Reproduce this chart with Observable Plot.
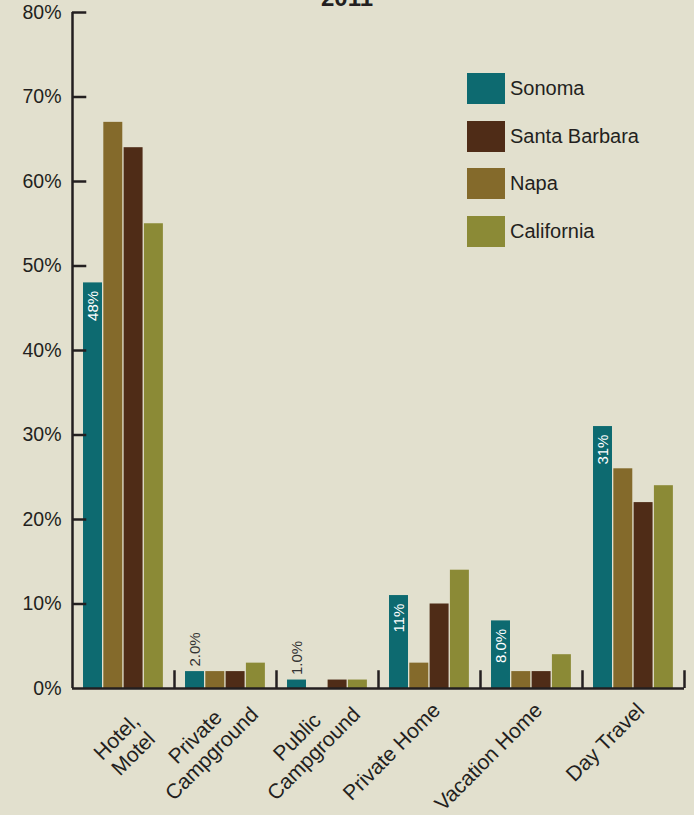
<!DOCTYPE html>
<html>
<head>
<meta charset="utf-8">
<script src="https://cdn.jsdelivr.net/npm/d3@7"></script>
<script src="https://cdn.jsdelivr.net/npm/@observablehq/plot@0.6"></script>
<style>
  body { margin: 0; background: #e2e0ce; font-family: "Liberation Sans", Arial, sans-serif; }
  #wrap { position: relative; width: 694px; height: 815px; overflow: hidden; background: #e2e0ce; }
  #title { position: absolute; left: 0; top: -14px; width: 694px; text-align: center; font-weight: bold; font-size: 24px; line-height: 1; color: #231f20; }
  #chart { position: absolute; left: 0; top: 0; }
  #legend { position: absolute; left: 467px; top: 73px; }
  .item { position: absolute; left: 0; display: flex; align-items: center; height: 31px; white-space: nowrap; }
  .sw { width: 38px; height: 31px; margin-right: 5px; }
  .lab { font-size: 20px; color: #231f20; }
</style>
</head>
<body>
<div id="wrap">
  <div id="chart"></div>
  <div id="title">2011</div>
  <div id="legend"></div>
</div>
<script>
// ---- data ----
const categories = ["Hotel,\nMotel", "Private\nCampground", "Public\nCampground", "Private Home", "Vacation Home", "Day Travel"];
const seriesOrder = ["Sonoma", "Napa", "Santa Barbara", "California"];      // bar order within a group
const legendOrder = ["Sonoma", "Santa Barbara", "Napa", "California"];
const seriesColors = ["#0d6a70", "#846a2b", "#4f2c17", "#8b8a36"];
const sonoma       = [48, 2, 1, 11, 8, 31];
const napa         = [67, 2, 0, 3, 2, 26];
const santaBarbara = [64, 2, 1, 10, 2, 22];
const california   = [55, 3, 1, 14, 4, 24];
const sonomaLabels = ["48%", "2.0%", "1.0%", "11%", "8.0%", "31%"];
const yTicks = [0, 10, 20, 30, 40, 50, 60, 70, 80];

const valuesBySeries = { "Sonoma": sonoma, "Napa": napa, "Santa Barbara": santaBarbara, "California": california };

const rows = [];
categories.forEach((c, i) => {
  seriesOrder.forEach((s, j) => rows.push({ i, j, category: c, series: s, value: valuesBySeries[s][i] }));
});
const sonomaRows = categories.map((c, i) => ({ i, value: sonoma[i], label: sonomaLabels[i] }));

// layout within a group (in group units)
const start = 0.108, step = 0.199, bw = 0.186;
const x1 = d => d.i - 0.5 + start + step * d.j;
const ink = "#231f20";

const W = 694, H = 815;
const fontX = 21;
const lh = fontX * 1.12;
const ctx = document.createElement("canvas").getContext("2d");
ctx.font = `${fontX}px "Liberation Sans"`;
const k = Math.SQRT1_2;

const labelMarks = categories.flatMap((c, i) => {
  const lines = c.split("\n");
  const wMax = Math.max(...lines.map(l => ctx.measureText(l).width));
  const hBlock = lines.length * lh;
  let cx, cy;
  if (lines.length > 1) {
    cx = 21 - k * wMax / 2;
    cy = 57;
  } else {
    const ax = -1, ay = 10;
    cx = ax + k * (hBlock - wMax) / 2;
    cy = ay + k * (wMax + hBlock) / 2;
  }
  return lines.map((l, n) => {
    const v = (n - (lines.length - 1) / 2) * lh;
    return Plot.text([{ i, l }], {
      x: "i", y: () => 0, text: "l",
      rotate: -45, textAnchor: "middle", lineAnchor: "middle",
      dx: cx + k * v, dy: cy + k * v,
      fontSize: fontX, fill: ink
    });
  });
});

const chart = Plot.plot({
  width: W,
  height: H,
  marginLeft: 72,
  marginRight: 10,
  marginTop: 12,
  marginBottom: H - 688,
  style: { background: "transparent", fontFamily: "'Liberation Sans', Arial, sans-serif", color: ink, overflow: "visible" },
  x: { domain: [-0.5, 5.5], axis: null },
  y: { domain: [0, 80], axis: null },
  color: { domain: seriesOrder, range: seriesColors },
  marks: [
    Plot.rectY(rows, { x1: x1, x2: d => x1(d) + bw, y: "value", fill: "series" }),
    // y axis
    Plot.axisY({ ticks: yTicks, tickFormat: d => d + "%", tickSize: 0, tickPadding: 11, fontSize: 19.5, fill: ink, label: null }),
    Plot.ruleY(yTicks.filter(t => t > 0), { x1: () => -0.5, x2: () => -0.5 + 0.14, stroke: ink, strokeWidth: 2.5 }),
    Plot.ruleX([-0.5], { y1: 0, y2: 80, stroke: ink, strokeWidth: 2.5 }),
    // x axis
    Plot.ruleY([0], { x1: () => -0.5, x2: () => 5.5, stroke: ink, strokeWidth: 2.5 }),
    Plot.ruleX(categories.map((c, i) => i + 0.5), { y1: 0, y2: 2.1, stroke: ink, strokeWidth: 2.5 }),
    // Sonoma value labels
    Plot.text(sonomaRows.filter(d => d.value >= 5), {
      x: d => d.i - 0.5 + start + bw / 2, y: "value", text: "label",
      rotate: -90, textAnchor: "end", dy: 8, fill: "white", fontSize: 15
    }),
    Plot.text(sonomaRows.filter(d => d.value < 5), {
      x: d => d.i - 0.5 + start + bw / 2, y: "value", text: "label",
      rotate: -90, textAnchor: "start", dy: -5, fill: "#333333", fontSize: 15
    }),
    ...labelMarks
  ]
});
document.getElementById("chart").appendChild(chart);

// legend
const legend = document.getElementById("legend");
legendOrder.forEach((s, n) => {
  const item = document.createElement("div");
  item.className = "item";
  item.style.top = (n * 47.5) + "px";
  const sw = document.createElement("div");
  sw.className = "sw";
  sw.style.background = seriesColors[seriesOrder.indexOf(s)];
  const lab = document.createElement("span");
  lab.className = "lab";
  lab.textContent = s;
  item.appendChild(sw);
  item.appendChild(lab);
  legend.appendChild(item);
});
</script>
</body>
</html>
